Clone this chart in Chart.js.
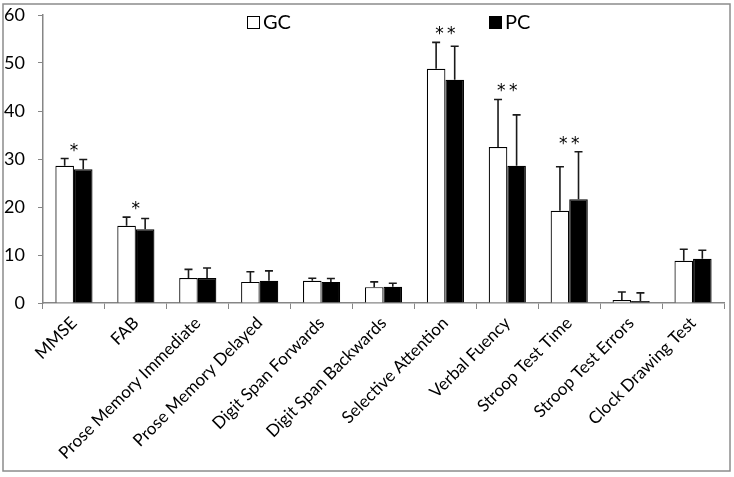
<!DOCTYPE html>
<html>
<head>
<meta charset="utf-8">
<script src="https://cdn.jsdelivr.net/npm/chart.js@4.4.1/dist/chart.umd.min.js"></script>
<style>
  html, body { margin: 0; padding: 0; background: #fff; }
  #wrap { width: 734px; height: 477px; }
</style>
</head>
<body>
<div id="wrap"><canvas id="testChart"></canvas></div>
<script>
// --- data ---
const categories = ['MMSE', 'FAB', 'Prose Memory Immediate', 'Prose Memory Delayed',
    'Digit Span Forwards', 'Digit Span Backwards', 'Selective Attention',
    'Verbal Fuency', 'Stroop Test Time', 'Stroop Test Errors', 'Clock Drawing Test'];
const gcMeans = [28.6, 16.1, 5.2, 4.4, 4.65, 3.3, 48.8, 32.5, 19.2, 0.6, 8.8];
const gcSD    = [1.5, 1.8, 1.8, 2.1, 0.5, 1.1, 5.5, 9.9, 9.2, 1.7, 2.4];
const pcMeans = [27.85, 15.35, 5.2, 4.65, 4.4, 3.4, 46.5, 28.6, 21.6, 0.4, 9.2];
const pcSD    = [2.05, 2.25, 2.1, 2.05, 0.7, 0.7, 7.0, 10.6, 9.9, 1.7, 1.8];
const significance = ['*', '*', '', '', '', '', '**', '**', '**', '', ''];
const yTicks = [0, 10, 20, 30, 40, 50, 60];

const FONT = 'Lato';
const axisGray = '#868686';

// Outer frame + white background
const framePlugin = {
    id: 'frame',
    beforeDraw(chart) {
        const ctx = chart.ctx;
        ctx.save();
        ctx.fillStyle = '#fff';
        ctx.fillRect(0, 0, chart.width, chart.height);
        ctx.strokeStyle = '#8c8c8c';
        ctx.lineWidth = 1.5;
        ctx.strokeRect(3, 4, 727, 467);
        ctx.restore();
    }
};

// Upward-only error bars with caps
const errorBarPlugin = {
    id: 'errorBars',
    afterDatasetsDraw(chart) {
        const ctx = chart.ctx;
        const y = chart.scales.y;
        const sds = [gcSD, pcSD];
        ctx.save();
        ctx.strokeStyle = '#1a1a1a';
        ctx.lineWidth = 1.6;
        chart.data.datasets.forEach((ds, i) => {
            const meta = chart.getDatasetMeta(i);
            meta.data.forEach((bar, j) => {
                const top = y.getPixelForValue(ds.data[j] + sds[i][j]);
                ctx.beginPath();
                ctx.moveTo(bar.x, bar.y);
                ctx.lineTo(bar.x, top);
                ctx.moveTo(bar.x - 4, top);
                ctx.lineTo(bar.x + 4, top);
                ctx.stroke();
            });
        });
        ctx.restore();
    }
};

// Significance asterisks above the higher error bar
const starPlugin = {
    id: 'stars',
    afterDatasetsDraw(chart) {
        const ctx = chart.ctx;
        const x = chart.scales.x;
        const y = chart.scales.y;
        ctx.save();
        ctx.fillStyle = '#000';
        ctx.font = '17px "DejaVu Sans"';
        ctx.textAlign = 'center';
        ctx.textBaseline = 'alphabetic';
        significance.forEach((s, j) => {
            if (!s) return;
            const hi = Math.max(gcMeans[j] + gcSD[j], pcMeans[j] + pcSD[j]);
            const py = y.getPixelForValue(hi) - 3;
            ctx.fillText(s.split('').join('\u2009'), x.getPixelForValue(j), py);
        });
        ctx.restore();
    }
};

// Legend drawn inside the plot: two items spread apart
const legendPlugin = {
    id: 'spreadLegend',
    afterDraw(chart) {
        const ctx = chart.ctx;
        const items = [
            { label: 'GC', fill: '#fff', x: 247 },
            { label: 'PC', fill: '#000', x: 489 }
        ];
        ctx.save();
        ctx.font = '20px ' + FONT;
        ctx.textBaseline = 'middle';
        ctx.textAlign = 'left';
        items.forEach(it => {
            ctx.fillStyle = it.fill;
            ctx.fillRect(it.x, 16, 12, 12);
            ctx.strokeStyle = '#000';
            ctx.lineWidth = 1;
            ctx.strokeRect(it.x + 0.5, 16.5, 12, 12);
            ctx.fillStyle = '#000';
            ctx.fillText(it.label, it.x + 16, 23);
        });
        ctx.restore();
    }
};

new Chart(document.getElementById('testChart'), {
    type: 'bar',
    data: {
        labels: categories,
        datasets: [
            {
                label: 'GC',
                data: gcMeans,
                backgroundColor: '#ffffff',
                borderColor: '#000000',
                borderWidth: 1.2,
                categoryPercentage: 0.6,
                barPercentage: 1.0
            },
            {
                label: 'PC',
                data: pcMeans,
                backgroundColor: '#000000',
                borderColor: '#000000',
                borderWidth: 1.2,
                categoryPercentage: 0.6,
                barPercentage: 1.0
            }
        ]
    },
    options: {
        responsive: true,
        maintainAspectRatio: false,
        animation: false,
        layout: { padding: { top: 15, right: 10, left: 0, bottom: 0 } },
        plugins: {
            legend: { display: false },
            tooltip: { enabled: false }
        },
        scales: {
            x: {
                afterFit: s => { s.height = 174; },
                grid: {
                    offset: true,
                    drawOnChartArea: false,
                    color: axisGray,
                    tickLength: 6
                },
                border: { color: axisGray, width: 1.5 },
                ticks: {
                    color: '#000',
                    font: { family: FONT, size: 17 },
                    minRotation: 45,
                    maxRotation: 45,
                    autoSkip: false,
                    padding: 4
                }
            },
            y: {
                min: 0,
                max: 60,
                // fixed axis width; drop the extra top/bottom padding the tick gap adds
                afterFit: s => { s.width = 43; s.paddingTop = 10; s.paddingBottom = 10; },
                afterBuildTicks: s => { s.ticks = yTicks.map(v => ({ value: v })); },
                grid: {
                    drawOnChartArea: false,
                    color: axisGray,
                    tickLength: 5
                },
                border: { color: axisGray, width: 1.5 },
                ticks: {
                    color: '#000',
                    font: { family: FONT, size: 18 },
                    padding: 13
                }
            }
        }
    },
    plugins: [framePlugin, errorBarPlugin, starPlugin, legendPlugin]
});
</script>
</body>
</html>
